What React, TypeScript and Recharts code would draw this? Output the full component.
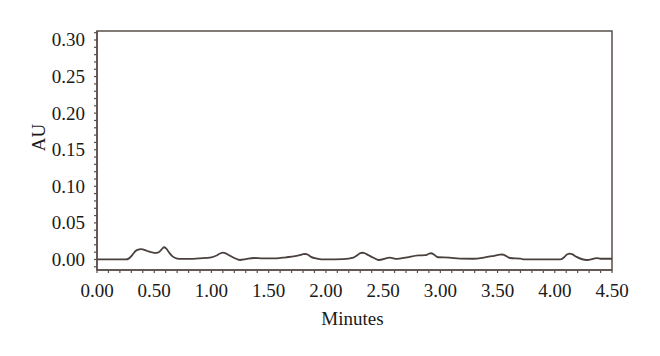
import React from 'react';
import { LineChart, Line, XAxis, YAxis, ReferenceArea } from 'recharts';

const times = [0, 0.25, 0.28, 0.3, 0.32, 0.34, 0.36, 0.38, 0.4, 0.42, 0.45, 0.47, 0.5, 0.52, 0.54, 0.565, 0.585, 0.6, 0.63, 0.66, 0.7, 0.75, 0.8, 0.9, 1.0, 1.05, 1.08, 1.1, 1.12, 1.15, 1.2, 1.25, 1.3, 1.37, 1.45, 1.57, 1.65, 1.72, 1.78, 1.8, 1.82, 1.84, 1.87, 1.92, 2.0, 2.15, 2.24, 2.28, 2.3, 2.32, 2.34, 2.37, 2.42, 2.46, 2.56, 2.62, 2.71, 2.81, 2.87, 2.9, 2.92, 2.94, 2.98, 3.08, 3.17, 3.29, 3.38, 3.47, 3.52, 3.54, 3.56, 3.61, 3.7, 3.73, 4.05, 4.09, 4.11, 4.13, 4.15, 4.19, 4.28, 4.37, 4.4, 4.5];
const absorbance = [0, 0, 0.0015, 0.0045, 0.0085, 0.0118, 0.0134, 0.014, 0.0137, 0.0128, 0.011, 0.0101, 0.0091, 0.009, 0.0098, 0.0138, 0.0167, 0.0158, 0.0095, 0.0042, 0.0013, 0.0007, 0.0007, 0.0015, 0.003, 0.0058, 0.0085, 0.0093, 0.0087, 0.0062, 0.002, -0.0007, 0.0005, 0.002, 0.0015, 0.0015, 0.003, 0.0042, 0.0062, 0.0072, 0.0075, 0.0068, 0.0035, 0.0012, 0, 0.0005, 0.0025, 0.0065, 0.0086, 0.0092, 0.0085, 0.006, 0.002, -0.0007, 0.0025, 0.0007, 0.003, 0.0055, 0.0058, 0.0078, 0.0085, 0.0072, 0.003, 0.0025, 0.0012, 0.001, 0.0025, 0.005, 0.0065, 0.0068, 0.006, 0.002, 0.0012, 0, 0, 0.0042, 0.0072, 0.008, 0.0072, 0.0035, -0.0007, 0.0018, 0.001, 0.001];

const xMajorTicks = [0, 0.5, 1.0, 1.5, 2.0, 2.5, 3.0, 3.5, 4.0, 4.5];
const yMajorTicks = [0, 0.05, 0.1, 0.15, 0.2, 0.25, 0.3];
const xMinorStep = 0.1;
const yMinorStep = 0.01;
const xDomain: [number, number] = [0, 4.5];
const yDomain: [number, number] = [-0.0144, 0.3123];

const data = times.map((t, i) => ({ t, au: absorbance[i] }));

const xTicks: number[] = [];
for (let i = 0; i <= Math.round(4.5 / xMinorStep); i++) xTicks.push(+(i * xMinorStep).toFixed(2));
const yTicks: number[] = [];
for (let i = -1; i <= 31; i++) yTicks.push(+(i * yMinorStep).toFixed(2));

const FONT = '"Liberation Serif", "Times New Roman", serif';
const AXIS = '#5a4f4b';
const LINE = '#4a403d';
const TEXT = '#1a1a1a';
const FS = 19;

const isMajor = (v: number, majors: number[]) => majors.some((m) => Math.abs(m - v) < 1e-6);

const XTick = (props: any) => {
  const { x, y, payload } = props;
  if (!isMajor(payload.value, xMajorTicks)) return <g />;
  return (
    <text x={x} y={y} dy="0.71em" textAnchor="middle" fontFamily={FONT} fontSize={FS} fill={TEXT}>
      {payload.value.toFixed(2)}
    </text>
  );
};

const YTick = (props: any) => {
  const { x, y, payload } = props;
  if (!isMajor(payload.value, yMajorTicks)) return <g />;
  return (
    <text x={x} y={y} dominantBaseline="central" textAnchor="end" fontFamily={FONT} fontSize={FS} fill={TEXT}>
      {payload.value.toFixed(2)}
    </text>
  );
};

const YLabel = (props: any) => {
  const vb = props.viewBox;
  const cx = vb.x + 30;
  const cy = vb.y + vb.height / 2 - 13;
  return (
    <text x={cx} y={cy} transform={`rotate(-90, ${cx}, ${cy})`} textAnchor="middle" dominantBaseline="central" fontFamily={FONT} fontSize={FS} fill={TEXT}>
      AU
    </text>
  );
};

const XLabel = (props: any) => {
  const vb = props.viewBox;
  const cx = vb.x + vb.width / 2 - 2;
  const cy = vb.y + 55;
  return (
    <text x={cx} y={cy} textAnchor="middle" fontFamily={FONT} fontSize={FS} fill={TEXT}>
      Minutes
    </text>
  );
};

export default function App() {
  return (
    <div style={{ width: 660, height: 356, background: '#fff' }}>
      <LineChart width={660} height={356} data={data} margin={{ top: 23, right: 56, left: 0, bottom: 34 }}>
        <XAxis
          dataKey="t"
          type="number"
          domain={xDomain}
          ticks={xTicks}
          interval={0}
          tick={<XTick />}
          tickSize={3}
          tickMargin={11}
          height={60}
          stroke={AXIS}
          strokeWidth={1.5}
          tickLine={{ stroke: AXIS, strokeWidth: 1.2 }}
          allowDataOverflow
          label={<XLabel />}
        />
        <YAxis
          type="number"
          domain={yDomain}
          ticks={yTicks}
          interval={0}
          tick={<YTick />}
          tickSize={3}
          tickMargin={9}
          width={89}
          stroke={AXIS}
          strokeWidth={1.5}
          tickLine={{ stroke: AXIS, strokeWidth: 1.2 }}
          allowDataOverflow
          label={<YLabel />}
        />
        <ReferenceArea x1={xDomain[0]} x2={xDomain[1]} y1={yDomain[0]} y2={yDomain[1]} fill="none" fillOpacity={0} stroke={AXIS} strokeWidth={1.5} ifOverflow="visible" />
        <Line dataKey="au" type="monotone" stroke={LINE} strokeWidth={1.8} dot={false} isAnimationActive={false} />
      </LineChart>
    </div>
  );
}
